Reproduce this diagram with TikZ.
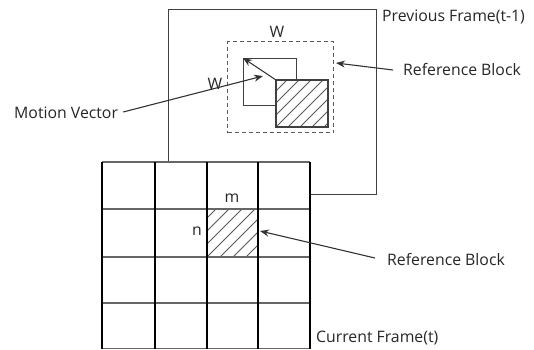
\documentclass[tikz,border=0pt]{standalone}
\usepackage{fontspec}
\setmainfont{Open Sans}
\usetikzlibrary{arrows.meta}
\begin{document}
\begin{tikzpicture}[x=1pt,y=-1pt,
  frameline/.style={draw=black!75,line width=1.4pt},
  gridh/.style={draw=black!60,line width=1.6pt},
  gridv/.style={draw=black,line width=1.1pt},
  hatchline/.style={draw=black!65,line width=0.9pt},
  lbl/.style={font=\fontsize{15.8}{17}\selectfont,text=black!85,inner sep=0pt},
  pointer/.style={draw=black!80,line width=1.1pt,-{Stealth[length=9pt,width=7pt]}},
  blk/.style={draw=black!75,line width=1.4pt,inner sep=0pt},
]
\useasboundingbox (0,0) rectangle (534,349);
% previous frame
\node[frameline,inner sep=0pt,minimum width=208pt,minimum height=185pt,anchor=north west] (prev) at (168,9) {};
% current frame grid
\fill[white] (102,162) rectangle (310,349);
\node[inner sep=0pt,minimum width=208pt,minimum height=187pt,anchor=north west] (curr) at (102,162) {};
% hatched cell
\node[inner sep=0pt,minimum width=51pt,minimum height=48pt,anchor=north west] (cell) at (207,209) {};
\begin{scope}
  \clip (207,209) rectangle (258,257);
  \foreach \k in {-52,-39,...,52} \draw[hatchline] (207+\k,257) -- ++(60,-60);
\end{scope}
\foreach \yy in {162,209,257,303,348.5} \draw[gridh] (102,\yy) -- (310,\yy);
\foreach \xx in {102,155,207,258,310} \draw[gridv] (\xx,162) -- (\xx,349);
% search window
\node[draw=black!65,dashed,dash pattern=on 4pt off 3pt,line width=1.3pt,inner sep=0pt,minimum width=106pt,minimum height=91pt,anchor=north west] (search) at (227,41) {};
% white block
\node[blk,minimum width=53pt,minimum height=47pt,anchor=north west] (wblk) at (243,58) {};
% hatched block
\node[blk,fill=white,minimum width=52pt,minimum height=47pt,anchor=north west] (hblk) at (276,80) {};
\begin{scope}
  \clip (276,80) rectangle (328,127);
  \foreach \k in {-48,-36,...,48} \draw[hatchline] (276+\k,127) -- ++(60,-60);
\end{scope}
\draw[blk,line width=1.6pt] (276,80) rectangle (328,127);
% motion vector
\draw[pointer] (hblk.north west) -- (wblk.north west);
% labels
\node[lbl] (wtop) at (277,32) {W};
\node[lbl] (wleft) at (215,84) {W};
\node[lbl] (m) at (232,198) {m};
\node[lbl] (n) at (197,231) {n};
\node[lbl,anchor=west] (prevlbl) at (382,17) {Previous Frame(t-1)};
\node[lbl,anchor=west] (ref1) at (403,70) {Reference Block};
\node[lbl,anchor=west] (mvlbl) at (14,113) {Motion Vector};
\node[lbl,anchor=west] (ref2) at (387,260) {Reference Block};
\node[lbl,anchor=west] (currlbl) at (316,338) {Current Frame(t)};
% pointers
\coordinate (mvtip) at (263,76);
\coordinate (ref1tip) at (336,63);
\coordinate (ref2tip) at (260,231);
\draw[pointer] ([xshift=-10pt]ref1.west) -- (ref1tip);
\draw[pointer] ([xshift=5pt,yshift=1pt]mvlbl.east) -- (mvtip);
\draw[pointer] ([xshift=-12pt,yshift=2pt]ref2.west) -- (ref2tip);
\end{tikzpicture}
\end{document}
